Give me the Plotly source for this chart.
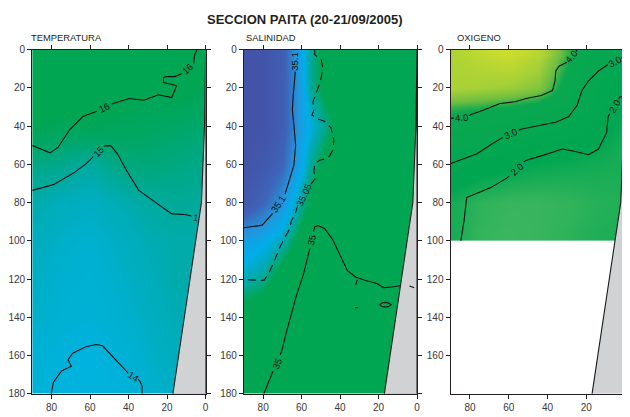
import plotly.graph_objects as go

# ---------------- data ----------------
temp_x = [90, 75, 60, 45, 30, 15, 0]
temp_depth = [0, 20, 40, 60, 80, 100, 120, 140, 160, 180]
temp_z = [
    [16.6, 16.6, 16.6, 16.5, 16.4, 16.2, 16.0],
    [16.5, 16.5, 16.4, 16.2, 16.0, 16.1, 15.9],
    [16.0, 15.8, 15.9, 15.8, 15.7, 15.6, 15.5],
    [15.3, 15.2, 15.0, 15.3, 15.4, 15.3, 15.2],
    [14.9, 14.7, 14.6, 14.8, 15.0, 15.1, 15.0],
    [14.7, 14.5, 14.4, 14.6, 14.8, 14.9, 14.9],
    [14.6, 14.4, 14.3, 14.5, 14.7, 14.9, 14.9],
    [14.5, 14.3, 14.2, 14.4, 14.6, 14.8, 14.8],
    [14.3, 14.1, 14.0, 14.2, 14.5, 14.7, 14.7],
    [14.2, 14.0, 13.9, 14.1, 14.4, 14.6, 14.6],
]

sal_x = [90, 80, 70, 62, 55, 45, 30, 15, 0]
sal_depth = [0, 20, 40, 60, 80, 100, 120, 140, 160, 180]
sal_z = [
    [35.17, 35.17, 35.15, 35.10, 35.06, 35.03, 35.02, 35.02, 35.02],
    [35.17, 35.17, 35.15, 35.11, 35.06, 35.03, 35.02, 35.02, 35.02],
    [35.17, 35.17, 35.15, 35.11, 35.08, 35.05, 35.02, 35.02, 35.02],
    [35.17, 35.16, 35.14, 35.10, 35.06, 35.03, 35.02, 35.02, 35.02],
    [35.16, 35.14, 35.11, 35.07, 35.04, 35.02, 35.02, 35.02, 35.02],
    [35.10, 35.09, 35.07, 35.04, 35.01, 35.00, 35.01, 35.02, 35.02],
    [35.07, 35.06, 35.03, 35.01, 34.99, 34.99, 35.00, 35.00, 35.00],
    [35.03, 35.02, 35.01, 34.99, 34.98, 34.98, 34.99, 34.99, 34.99],
    [35.01, 35.00, 34.99, 34.98, 34.98, 34.98, 34.98, 34.98, 34.98],
    [35.00, 34.99, 34.98, 34.98, 34.98, 34.98, 34.98, 34.98, 34.98],
]

oxy_x = [90, 75, 60, 45, 30, 15, 0]
oxy_depth = [0, 10, 20, 30, 40, 60, 80, 100]
oxy_z = [
    [5.0, 5.3, 5.5, 5.2, 4.2, 3.5, 3.0],
    [5.0, 5.1, 5.2, 4.9, 4.0, 3.3, 2.8],
    [5.0, 4.9, 4.8, 4.6, 3.8, 3.1, 2.4],
    [4.2, 4.1, 4.0, 3.8, 3.6, 3.0, 2.2],
    [3.6, 3.5, 3.4, 3.2, 3.0, 2.6, 2.0],
    [2.9, 2.6, 2.4, 2.2, 2.1, 2.0, 1.9],
    [2.0, 1.6, 1.4, 1.4, 1.5, 1.7, 1.8],
    [2.0, 1.5, 1.3, 1.4, 1.6, 1.8, 1.9],
]

# coastline / shelf (distance, depth)
coast_x = [17, 5, 2.2, 0.6, 0.2, 0, 0]
coast_y = [180, 100, 80, 40, 0, 0, 180]

# isolines (distance, depth); None = break for a label
T16 = [(90, 50.2), (80.7, 54), (76.5, 51), (70.5, 41.8), (63.7, 35), (56.5, 32.2), None,
       (48.8, 28.4), (39.8, 25.6), (32.1, 26.5), (28.7, 25.1), (24.5, 23.6), (17.6, 25.1),
       (16, 21.4), (15.1, 18.9), (18.5, 18), (21.9, 17.2), (21.9, 14.6), (20.2, 14.1),
       (16, 14.1), (12.5, 12.6), None, (6.3, 7.3), (5.7, 2.7), (4.5, 0)]
T15 = [(90, 73.6), (79, 70.6), (68.8, 64.7), (62, 59.6), (58.3, 56), None,
       (52.9, 50.4), (49.2, 50.2), (45.8, 54.5), (40.7, 63.8), (34.7, 73.6), (29.6, 77.4),
       (23.6, 81.6), (17.6, 85.9), (10.8, 86.2), (7.4, 87)]
T14 = [(80.2, 180), (79, 174), (74.8, 168.1), (69.7, 165.6), (71.4, 162.2), (69, 158.8),
       (62, 155.4), (56.9, 154.2), (53.5, 154.9), (48.3, 160.5), (41.5, 168.1), (40.2, 169.2),
       None, (35, 172.5), (34.2, 173.3), (33, 175.8), (33, 180)]

S351 = [(63.4, 11.5), (63.4, 12.9), (64.3, 23.1), (64.8, 31.6), (63.8, 41.8), (63.1, 50.2),
        (64, 60.4), (66.9, 70.6), (68.6, 75.6), None, (75, 85.6), (80.5, 91.8), (89.9, 93.2)]
S3505 = [(53.2, 0), (53.2, 2.7), (49.8, 5.3), (49, 9.5), (50.1, 16.3), (52.3, 22.2),
         (54.1, 27.3), (53.5, 31.2), (54.6, 34.2), (51.5, 36.3), (48.1, 37.5), (44.7, 40.9),
         (43.3, 46.9), (43.5, 52), (45.5, 55.7), (47.2, 57), (50.6, 57.9), (53.2, 59.6),
         (53.6, 63.8), (52.7, 67.2), (55.2, 70.3), None, (62.0, 81.5), (63.4, 85.9),
         (65.5, 90.1), (66, 93.5), (68.5, 97.8), (71.1, 102.9), (74.5, 111.3), (77.1, 117.2),
         (79.6, 120.7), (89.9, 120.3)]
S35 = [(79.6, 180), (76.2, 171.5), (74.9, 168.2), None, (71.1, 159.6), (70.2, 157.1),
       (67.7, 146.9), (65.1, 136.7), (62.6, 128.3), (59.2, 118.1), (56.6, 107.9),
       (55.7, 104), None, (53.8, 95), (53.2, 92.7), (51.5, 92), (48.1, 93.5), (43.8, 99.4),
       (40.4, 107), (36.2, 115.6), (31.9, 118.9), (26.8, 120.7), (20.8, 122.3),
       (17.4, 124.5), (12.3, 124), (8.8, 123.5), None,
       (31.0, 120.4), (31.9, 123.0), None,
       (3.9, 123.6), (1.5, 124.6), None,
       (19.5, 133.4), (18, 132.4), (16.5, 132.2), (15, 132.4), (13.5, 133.4), (15, 134.4),
       (16.5, 134.6), (18, 134.4), (19.5, 133.4), None,
       (32.2, 135), (30.6, 135)]

O4 = [(89.8, 35.8), (88.3, 35.8), None, (80.3, 34.5), (79.7, 34.1), (72.9, 31.6),
      (64.5, 28.2), (56.8, 27.3), (50.9, 25.6), (43.3, 24), (37.4, 21.4), (36.1, 16.3),
      (35.7, 11.2), (34, 8.7), (30.6, 7), (30.0, 6.6), None, (25.3, 1.0), (24.7, 0)]
O3 = [(89.8, 59.6), (83, 57), (76.3, 54.5), (68.7, 49.4), (63.0, 45.9), None,
      (54.8, 42.1), (52.6, 41.4), (44.2, 39.7), (35.7, 38), (29, 35), (24.7, 29.1),
      (22.2, 21.4), (18.8, 16.3), (13.7, 11.2), (8.9, 7.9), None, (1.9, 4.4), (0.5, 3.8)]
O2 = [(84.7, 100), (83, 89.3), (81.7, 77.4), (77.9, 75.7), (69.5, 72.3), (61, 67.2),
      (59.8, 66.2), None, (52.3, 58.7), (50.9, 57.9), (42.4, 55.3), (32.3, 52),
      (25.6, 53.3), (18.8, 55), (13.7, 52), (9.5, 43.5), (8.7, 35), (7.9, 33.6), None,
      (3.3, 25.8), (2.7, 24.8), (1.1, 24.5)]

# labels: (panel, text, distance, depth, angle)
labels = [
    (1, "16", 52.6, 30.3, -26), (1, "16", 9.3, 9.8, -42),
    (1, "15", 55.6, 53.2, -47), (1, "1", 5.4, 87.9, 10),
    (1, "14", 37.6, 171.0, 33),
    (2, "35.1", 63.4, 6.3, -90), (2, "35.1", 71.9, 80.6, -56),
    (2, "35.05", 58.6, 75.9, -65),
    (2, "35", 72.9, 163.9, -67), (2, "35", 54.7, 99.4, -78),
    (3, "4.0", 84.3, 35.6, -4), (3, "4.0", 27.6, 3.8, -49),
    (3, "3.0", 58.9, 43.9, -24), (3, "3.0", 5.3, 6.1, -27),
    (3, "2.0", 56.0, 62.5, -42), (3, "2.0", 5.5, 29.7, -60),
]

# page is shown with an 8 px body margin: size the figure to fit and convert page px
W, H, OFF = 622, 409, 8


def fx(p):
    return (p - OFF) / W


def fy(p):
    return 1 - (p - OFF) / H


def split(pts):
    xs, ys = [], []
    for p in pts:
        if p is None:
            xs.append(None); ys.append(None)
        else:
            xs.append(p[0]); ys.append(p[1])
    return xs, ys


def cscale(stops, vmin, vmax):
    return [[(v - vmin) / (vmax - vmin), c] for v, c in stops]


temp_cs = cscale([(13.8, "rgb(0,180,225)"), (14.0, "rgb(0,179,222)"), (14.4, "rgb(0,176,208)"),
                  (14.8, "rgb(0,172,180)"), (15.2, "rgb(0,169,140)"), (15.6, "rgb(0,167,102)"),
                  (16.0, "rgb(0,166,82)"), (16.6, "rgb(0,166,81)")], 13.8, 16.6)
sal_cs = cscale([(34.98, "rgb(0,166,81)"), (35.045, "rgb(0,166,81)"), (35.065, "rgb(0,170,165)"),
                 (35.085, "rgb(0,174,235)"), (35.11, "rgb(35,150,220)"), (35.14, "rgb(62,100,185)"),
                 (35.18, "rgb(68,78,162)")], 34.98, 35.18)
oxy_cs = cscale([(1.0, "rgb(75,185,100)"), (1.6, "rgb(45,178,90)"), (2.3, "rgb(0,166,81)"),
                 (4.0, "rgb(10,168,80)"), (4.4, "rgb(110,190,65)"), (4.9, "rgb(165,208,55)"),
                 (5.5, "rgb(205,222,45)"), (5.6, "rgb(210,224,45)")], 1.0, 5.6)

# oxygen depth bin edges (data only to 100 m)
oxy_edges = [oxy_depth[0]] + [(a + b) / 2 for a, b in zip(oxy_depth[:-1], oxy_depth[1:])] + [oxy_depth[-1]]

fig = go.Figure()

fig.add_trace(go.Heatmap(x=temp_x, y=temp_depth, z=temp_z, colorscale=temp_cs, zmin=13.8, zmax=16.6,
                         zsmooth="best", showscale=False, hoverinfo="skip", xaxis="x", yaxis="y"))
fig.add_trace(go.Heatmap(x=sal_x, y=sal_depth, z=sal_z, colorscale=sal_cs, zmin=34.98, zmax=35.18,
                         zsmooth="best", showscale=False, hoverinfo="skip", xaxis="x2", yaxis="y2"))
fig.add_trace(go.Heatmap(x=oxy_x, y=oxy_edges, z=oxy_z, colorscale=oxy_cs, zmin=1.0, zmax=5.6,
                         zsmooth="best", showscale=False, hoverinfo="skip", xaxis="x3", yaxis="y3"))

GRAY = "rgb(209,210,212)"
for ax in ["", "2", "3"]:
    fig.add_trace(go.Scatter(x=coast_x, y=coast_y, mode="lines", fill="toself", fillcolor=GRAY,
                             line=dict(color="#1a1a1a", width=1.1), hoverinfo="skip",
                             xaxis="x" + ax, yaxis="y" + ax))


def add_line(pts, ax, dash="solid"):
    xs, ys = split(pts)
    fig.add_trace(go.Scatter(x=xs, y=ys, mode="lines", line=dict(color="#111", width=1.1, dash=dash),
                             hoverinfo="skip", xaxis="x" + ax, yaxis="y" + ax))


add_line(T16, ""); add_line(T15, ""); add_line(T14, "")
add_line(S351, "2"); add_line(S3505, "2", dash="8px,5px"); add_line(S35, "2")
add_line(O4, "3"); add_line(O3, "3"); add_line(O2, "3")

FONT = "Liberation Sans, Arial, sans-serif"
ann = []
for panel, txt, xv, yv, ang in labels:
    sfx = "" if panel == 1 else str(panel)
    ann.append(dict(text=txt, x=xv, y=yv, xref="x" + sfx, yref="y" + sfx, showarrow=False,
                    textangle=ang, font=dict(family=FONT, size=9.5, color="#111"),
                    xanchor="center", yanchor="middle"))

ann.append(dict(text="<b>SECCION PAITA (20-21/09/2005)</b>", x=fx(305), y=fy(14),
                xref="paper", yref="paper", showarrow=False, xanchor="center", yanchor="middle",
                font=dict(family=FONT, size=13, color="#231f20")))
for txt, px in [("TEMPERATURA", 25), ("SALINIDAD", 243), ("OXIGENO", 457)]:
    ann.append(dict(text=txt, x=fx(px), y=fy(32), xref="paper", yref="paper",
                    showarrow=False, xanchor="left", yanchor="middle",
                    font=dict(family=FONT, size=9.4, color="#231f20")))

axis_common = dict(showgrid=False, zeroline=False, showline=True, linecolor="#231f20", linewidth=1.1,
                   mirror="allticks", ticks="outside", ticklen=4, tickcolor="#231f20", tickwidth=1,
                   tickfont=dict(family=FONT, size=10, color="#3a3a3a"))

ydom = [fy(398.3), fy(44.6)]
xdoms = [[fx(28.5), fx(204.5)], [fx(243.3), fx(419)], [fx(453), 1.0]]

layout = dict(width=W, height=H, margin=dict(l=0, r=0, t=0, b=0),
              paper_bgcolor="white", plot_bgcolor="white", showlegend=False, annotations=ann)
for i, sfx in enumerate(["", "2", "3"]):
    layout["xaxis" + sfx] = dict(domain=xdoms[i], range=[90, 0], tickvals=[80, 60, 40, 20, 0],
                                 anchor="y" + sfx, **axis_common)
    yt = [0, 20, 40, 60, 80, 100, 120, 140, 160] + ([180] if i < 2 else [])
    layout["yaxis" + sfx] = dict(domain=ydom, range=[180, 0], tickvals=yt, anchor="x" + sfx,
                                 **axis_common)

fig.update_layout(**layout)
fig.write_html("out.html")
